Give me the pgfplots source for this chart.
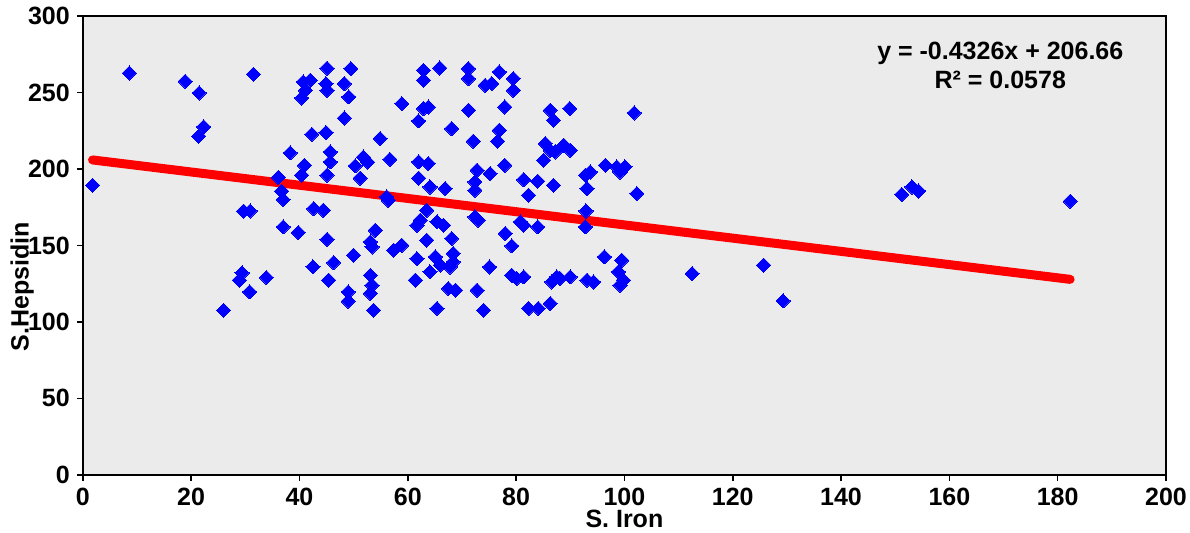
\documentclass[border=0pt]{standalone}
\usepackage{pgfplots}
\pgfplotsset{compat=1.18}
\usepackage{fontspec}
\setmainfont{Liberation Sans}
\definecolor{bgc}{RGB}{235,235,235}
\definecolor{mblue}{RGB}{0,0,255}
\definecolor{mred}{RGB}{255,0,0}
\begin{document}
\begin{tikzpicture}
\begin{axis}[
  scale only axis,
  width=541.6pt, height=229.4pt,
  xmin=0, xmax=200, ymin=0, ymax=300,
  xtick={0,20,...,200}, ytick={0,50,...,300},
  xtick pos=left, ytick pos=left,
  tick align=outside, major tick length=3pt,
  axis line style={line width=0.8pt, black},
  every tick/.style={black, line width=0.8pt},
  axis background/.style={fill=bgc},
  /pgf/number format/assume math mode=true,
  ticklabel style={font=\fontsize{12.5}{15}\selectfont\bfseries},
  xlabel={S. Iron}, ylabel={S.Hepsidin},
  xlabel style={at={(axis description cs:0.5,-0.097)}, anchor=center, font=\fontsize{12.5}{15}\selectfont\bfseries},
  ylabel style={at={(axis description cs:-0.056,0.41)}, anchor=center, font=\fontsize{12.5}{15}\selectfont\bfseries},
]
\addplot[only marks, mark=square*, mark size=2.5pt, color=mblue,
  mark options={rotate=45, fill=mblue, draw=mblue, line width=0pt}] table {
x y
1.8 189.3
8.6 262.7
18.9 257.3
21.5 249.7
22.3 227.5
21.4 221.4
31.5 261.9
26.0 107.6
29.7 172.4
30.9 172.5
29.4 132.0
28.9 127.3
30.8 119.6
33.9 129.0
36.1 194.5
36.7 185.5
37.0 180.0
37.0 162.1
38.3 210.5
39.8 158.4
40.4 196.0
40.9 202.4
40.4 246.4
40.7 256.9
41.1 251.4
42.0 258.0
42.3 222.7
42.6 174.1
44.4 173.0
44.9 223.8
44.9 255.8
45.1 265.9
45.1 251.4
45.1 196.0
45.7 211.1
45.7 204.6
45.1 154.0
46.3 138.8
42.5 136.0
45.4 127.3
48.3 255.8
49.1 247.1
49.5 265.6
48.3 233.3
49.0 119.6
49.0 113.5
50.0 143.6
50.3 202.0
51.8 207.8
52.6 204.5
51.2 194.0
53.1 152.3
53.4 149.0
53.1 130.5
53.4 124.0
53.1 118.6
53.7 107.6
54.0 159.9
54.9 219.9
56.1 181.7
56.4 179.5
56.7 206.3
57.4 146.9
58.9 150.1
58.9 242.7
61.7 141.4
61.4 127.3
62.9 264.5
62.9 258.0
65.9 266.0
62.9 239.5
63.8 240.5
62.0 231.4
62.0 204.6
63.8 203.5
62.0 194.0
64.1 188.2
66.9 187.2
63.5 173.0
61.7 163.2
62.3 166.5
65.4 165.4
66.6 163.2
63.5 153.4
68.1 154.5
65.1 142.5
68.4 144.7
64.1 132.7
66.0 137.1
68.4 139.2
67.8 135.9
67.5 121.8
68.8 120.7
65.4 108.8
68.1 226.4
71.2 265.6
71.2 259.1
71.2 238.4
72.1 218.1
72.8 199.2
72.4 191.5
72.4 186.1
72.4 168.6
73.0 166.5
72.8 120.7
74.0 107.6
74.3 254.7
75.5 255.8
75.2 197.0
75.1 135.9
76.9 263.4
76.9 225.3
76.6 218.1
77.9 240.5
77.9 202.4
78.0 157.8
79.2 149.7
79.5 259.1
79.5 251.4
79.2 130.5
80.1 128.4
81.4 129.4
80.8 165.4
81.4 163.2
81.4 193.0
82.3 182.8
82.3 108.8
84.0 192.0
84.0 162.1
84.1 108.8
85.1 205.7
85.4 216.6
86.3 212.2
86.3 238.4
86.9 231.8
86.9 189.3
86.6 126.1
87.5 129.4
86.3 112.0
87.2 211.1
88.8 215.5
90.0 212.2
89.9 239.5
88.1 128.4
90.0 129.4
92.8 195.9
93.7 198.0
93.1 187.2
92.9 172.5
92.8 162.1
93.1 127.3
94.3 126.1
96.3 142.5
96.5 202.4
98.6 201.3
99.2 198.0
100.1 201.3
99.5 140.3
98.9 132.7
99.8 127.3
99.2 124.0
101.8 236.6
102.3 183.9
112.5 131.6
125.7 137.1
129.3 113.7
151.2 183.3
153.1 188.2
154.3 185.6
182.3 178.9
};
\addplot[mred, line width=4.5pt, line cap=round] coordinates {(1.8,205.88) (182.3,127.80)};
\node[align=center, font=\fontsize{12.5}{14.5}\selectfont\bfseries] at (axis cs:169.4,268) {y = -0.4326x + 206.66\\R² = 0.0578};
\end{axis}
\pgfresetboundingbox
\path[use as bounding box] ([shift={(-41.4pt,-28.6pt)}]current axis.south west) rectangle ([shift={(12pt,8pt)}]current axis.north east);
\end{tikzpicture}
\end{document}
